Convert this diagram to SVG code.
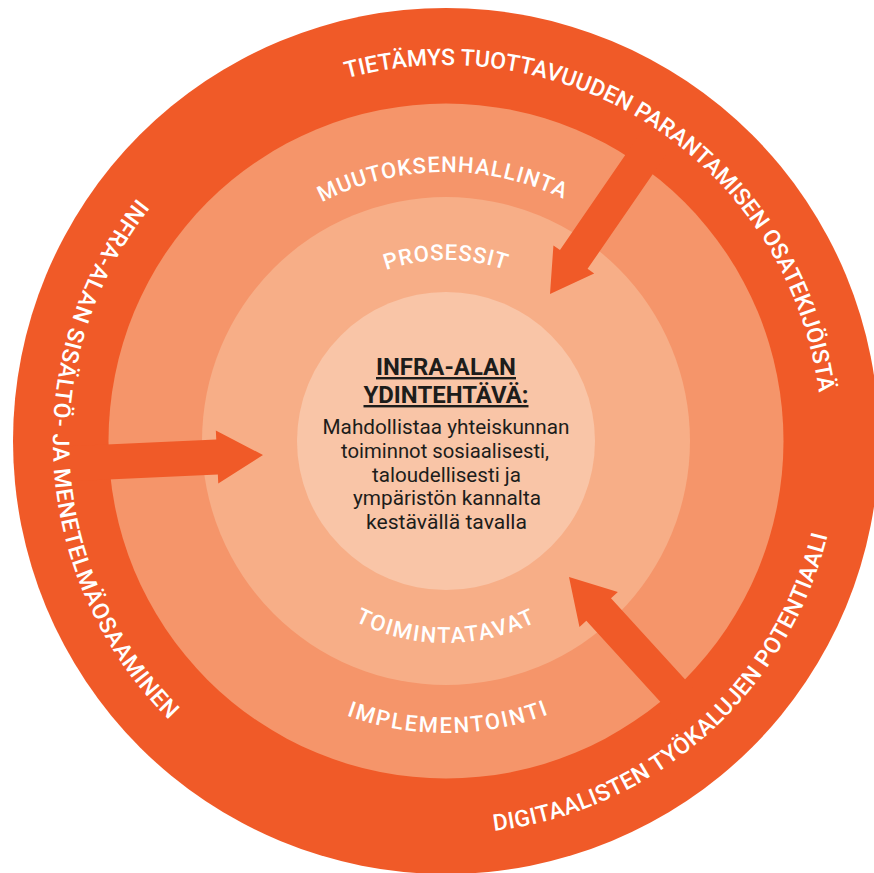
<svg xmlns="http://www.w3.org/2000/svg" xmlns:xlink="http://www.w3.org/1999/xlink" width="874" height="873" viewBox="0 0 874 873">
  <style>
    .dark { fill: #f05a28; }
    .ring2 { fill: #f5956a; }
    .ring3 { fill: #f7ae87; }
    .core { fill: #f9c5a7; }
    .lbl { font-family: Roboto, "Liberation Sans", sans-serif; font-weight: 500; fill: #ffffff; }
    .outer { font-size: 23px; }
    .inner { font-size: 22px; }
    .title { font-family: Roboto, "Liberation Sans", sans-serif; font-weight: 700; font-size: 24px; fill: #1d1d1b; text-anchor: middle; text-decoration: underline; }
    .body { font-family: Roboto, "Liberation Sans", sans-serif; font-weight: 400; font-size: 19.5px; fill: #1d1d1b; text-anchor: middle; }
  </style>
  <defs>
    <path id="p-top" d="M223.1,138.2 A376,376 0 0 1 811.4,529.7" fill="none"/>
    <path id="p-left" d="M289.0,80.7 A393,393 0 0 0 334.7,817.9" fill="none"/>
    <path id="p-br" d="M259.1,786.7 A393,393 0 0 0 811.4,296.3" fill="none"/>
    <path id="p-muu" d="M192.1,352.1 A269,269 0 0 1 697.6,345.9" fill="none"/>
    <path id="p-pro" d="M275.9,379.1 A181,181 0 0 1 616.1,379.1" fill="none"/>
    <path id="p-toi" d="M256.2,510.1 A202,202 0 0 0 635.8,510.1" fill="none"/>
    <path id="p-imp" d="M172.5,543.3 A292,292 0 0 0 721.2,538.5" fill="none"/>
  </defs>

  <g id="outer-ring">
    <circle class="dark" cx="446" cy="441" r="433"/>
  </g>
  <g id="ring-muutoksenhallinta">
    <circle class="ring2" cx="446" cy="441" r="337.5"/>
  </g>
  <g id="ring-prosessit">
    <circle class="ring3" cx="446" cy="441" r="244"/>
  </g>
  <g id="core">
    <circle class="core" cx="446" cy="441" r="149"/>
  </g>

  <g id="connectors" class="dark">
    <polygon id="arrow-left" points="0,0 -46,-26.5 -46,-17.5 -200,-17.5 -200,17.5 -46,17.5 -46,26.5" transform="translate(263,455) rotate(-2.6)"/>
    <polygon id="arrow-top-right" points="0,0 -42,-24.7 -42,-16.75 -200,-16.75 -200,16.75 -42,16.75 -42,24.7" transform="translate(550,294) rotate(124.5)"/>
    <polygon id="arrow-bottom-right" points="0,0 -44,-26 -44,-16.7 -200,-16.7 -200,16.7 -44,16.7 -44,26" transform="translate(569,577) rotate(-132.4)"/>
  </g>

  <g id="label-outer-top">
    <text class="lbl outer"><textPath xlink:href="#p-top" href="#p-top" startOffset="50%" text-anchor="middle">TIETÄMYS TUOTTAVUUDEN PARANTAMISEN OSATEKIJÖISTÄ</textPath></text>
  </g>
  <g id="label-outer-left">
    <text class="lbl outer" letter-spacing="0.7"><textPath xlink:href="#p-left" href="#p-left" startOffset="50%" text-anchor="middle">INFRA-ALAN SISÄLTÖ- JA MENETELMÄOSAAMINEN</textPath></text>
  </g>
  <g id="label-outer-bottom-right">
    <text class="lbl outer" letter-spacing="0.4"><textPath xlink:href="#p-br" href="#p-br" startOffset="50%" text-anchor="middle">DIGITAALISTEN TYÖKALUJEN POTENTIAALI</textPath></text>
  </g>
  <g id="label-muutoksenhallinta">
    <text class="lbl inner" letter-spacing="1.0"><textPath xlink:href="#p-muu" href="#p-muu" startOffset="50%" text-anchor="middle">MUUTOKSENHALLINTA</textPath></text>
  </g>
  <g id="label-prosessit">
    <text class="lbl inner" letter-spacing="0.8"><textPath xlink:href="#p-pro" href="#p-pro" startOffset="50%" text-anchor="middle">PROSESSIT</textPath></text>
  </g>
  <g id="label-toimintatavat">
    <text class="lbl inner" letter-spacing="1.7"><textPath xlink:href="#p-toi" href="#p-toi" startOffset="50%" text-anchor="middle">TOIMINTATAVAT</textPath></text>
  </g>
  <g id="label-implementointi">
    <text class="lbl inner" letter-spacing="2"><textPath xlink:href="#p-imp" href="#p-imp" startOffset="50%" text-anchor="middle">IMPLEMENTOINTI</textPath></text>
  </g>

  <g id="core-text">
    <text class="title" x="446" y="375" textLength="140" lengthAdjust="spacingAndGlyphs">INFRA-ALAN</text>
    <text class="title" x="446" y="403" textLength="165" lengthAdjust="spacingAndGlyphs">YDINTEHTÄVÄ:</text>
    <text class="body" x="446" y="434" textLength="247" lengthAdjust="spacingAndGlyphs">Mahdollistaa yhteiskunnan</text>
    <text class="body" x="445" y="458" textLength="208" lengthAdjust="spacingAndGlyphs">toiminnot sosiaalisesti,</text>
    <text class="body" x="446.5" y="482" textLength="149" lengthAdjust="spacingAndGlyphs">taloudellisesti ja</text>
    <text class="body" x="447" y="505" textLength="188" lengthAdjust="spacingAndGlyphs">ympäristön kannalta</text>
    <text class="body" x="446.5" y="529" textLength="161" lengthAdjust="spacingAndGlyphs">kestävällä tavalla</text>
  </g>
</svg>
